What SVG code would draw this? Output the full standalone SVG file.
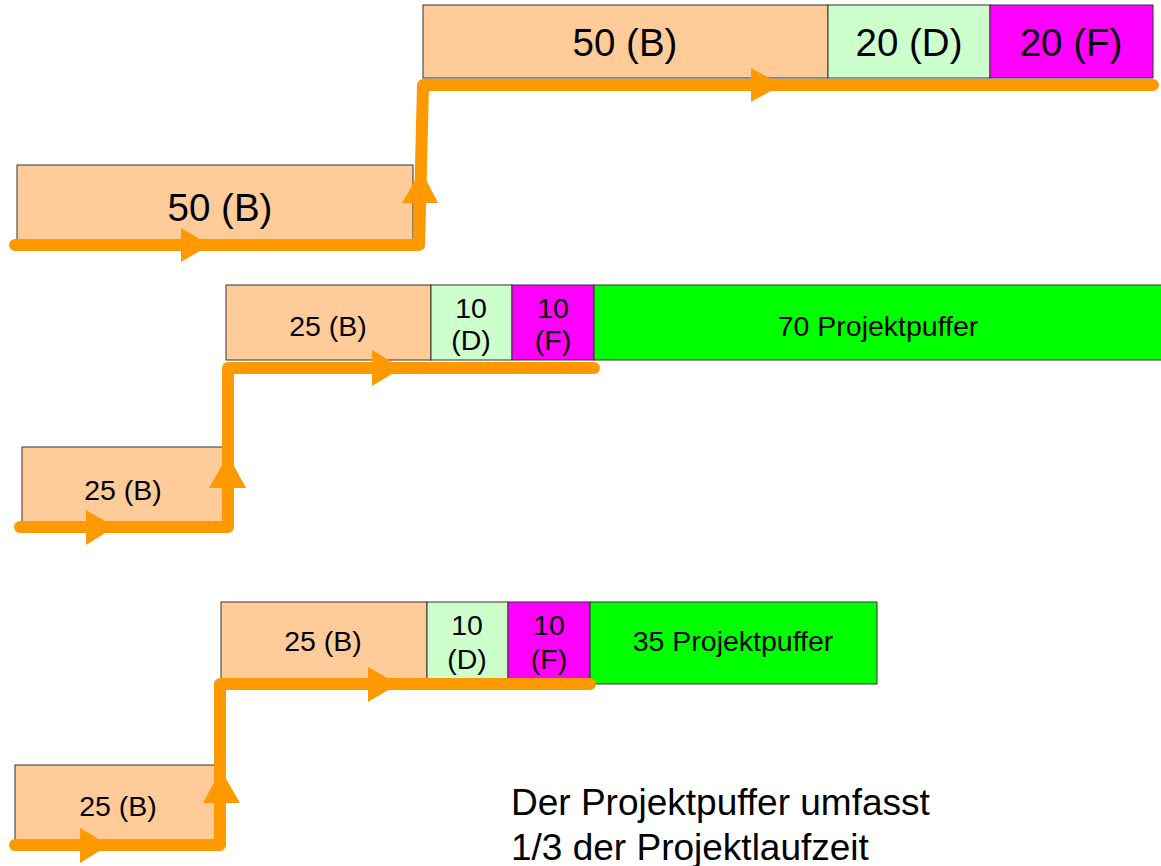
<svg xmlns="http://www.w3.org/2000/svg" width="1161" height="866" viewBox="0 0 1161 866">
<style>
.b{fill:#FFCC99;stroke:#333;stroke-width:1}
.d{fill:#CCFFCC;stroke:#333;stroke-width:1}
.f{fill:#FF00FF;stroke:#333;stroke-width:1}
.p{fill:#00FF00;stroke:#333;stroke-width:1}
text{font-family:"Liberation Sans",Arial,sans-serif;fill:#000;text-anchor:middle}
.l{font-size:38.5px}
.s{font-size:28.5px}
.n{font-size:37px;text-anchor:start}
.path{fill:none;stroke:#FF9900;stroke-width:12;stroke-linecap:round;stroke-linejoin:round}
.ah{fill:#FF9900}
</style>
<g id="row1">
<g id="r1-top-b"><rect class="b" x="423" y="5" width="405" height="73"/><text class="l" x="625" y="56">50 (B)</text></g>
<g id="r1-top-d"><rect class="d" x="828" y="5" width="162" height="73"/><text class="l" x="909" y="56">20 (D)</text></g>
<g id="r1-top-f"><rect class="f" x="990" y="5" width="163" height="73"/><text class="l" x="1071" y="56">20 (F)</text></g>
<g id="r1-low-b"><rect class="b" x="17" y="165" width="396" height="75"/><text class="l" x="220" y="221">50 (B)</text></g>
</g>
<g id="row2">
<g id="r2-top-b"><rect class="b" x="226" y="285" width="205" height="75"/><text class="s" x="328" y="336">25 (B)</text></g>
<g id="r2-top-d"><rect class="d" x="431" y="285" width="81" height="75"/><text class="s" x="471" y="318">10</text><text class="s" x="471" y="350">(D)</text></g>
<g id="r2-top-f"><rect class="f" x="512" y="285" width="82" height="75"/><text class="s" x="553" y="318">10</text><text class="s" x="553" y="350">(F)</text></g>
<g id="r2-puffer"><rect class="p" x="594" y="285" width="570" height="75"/><text class="s" x="878" y="336">70 Projektpuffer</text></g>
<g id="r2-low-b"><rect class="b" x="22" y="447" width="204" height="80"/><text class="s" x="123" y="500">25 (B)</text></g>
</g>
<g id="row3">
<g id="r3-top-b"><rect class="b" x="221" y="602" width="206" height="82"/><text class="s" x="323" y="651">25 (B)</text></g>
<g id="r3-top-d"><rect class="d" x="427" y="602" width="81" height="82"/><text class="s" x="467" y="635">10</text><text class="s" x="467" y="669">(D)</text></g>
<g id="r3-top-f"><rect class="f" x="508" y="602" width="82" height="82"/><text class="s" x="549" y="635">10</text><text class="s" x="549" y="669">(F)</text></g>
<g id="r3-puffer"><rect class="p" x="590" y="602" width="287" height="82"/><text class="s" x="733" y="651">35 Projektpuffer</text></g>
<g id="r3-low-b"><rect class="b" x="15" y="765" width="200" height="80"/><text class="s" x="118" y="816">25 (B)</text></g>
</g>
<g id="connectors">
<path class="path" d="M15,245 L419,245 L423,85 L1153,85"/>
<polygon class="ah" points="181,228 181,262 210,245"/>
<polygon class="ah" points="402,203 438,203 421,170"/>
<polygon class="ah" points="751,68 751,102 782,85"/>
<path class="path" d="M20,527 L228,527 L228,368 L594,368"/>
<polygon class="ah" points="86,510 86,545 115,527"/>
<polygon class="ah" points="209,488 246,488 228,455"/>
<polygon class="ah" points="372,350 372,386 402,368"/>
<path class="path" d="M15,845 L220,845 L220,684 L590,684"/>
<polygon class="ah" points="80,828 80,863 109,845"/>
<polygon class="ah" points="203,803 240,803 221,770"/>
<polygon class="ah" points="368,667 368,702 398,684"/>
</g>
<g id="note">
<text class="n" x="511" y="815">Der Projektpuffer umfasst</text>
<text class="n" x="511" y="860">1/3 der Projektlaufzeit</text>
</g>
</svg>
